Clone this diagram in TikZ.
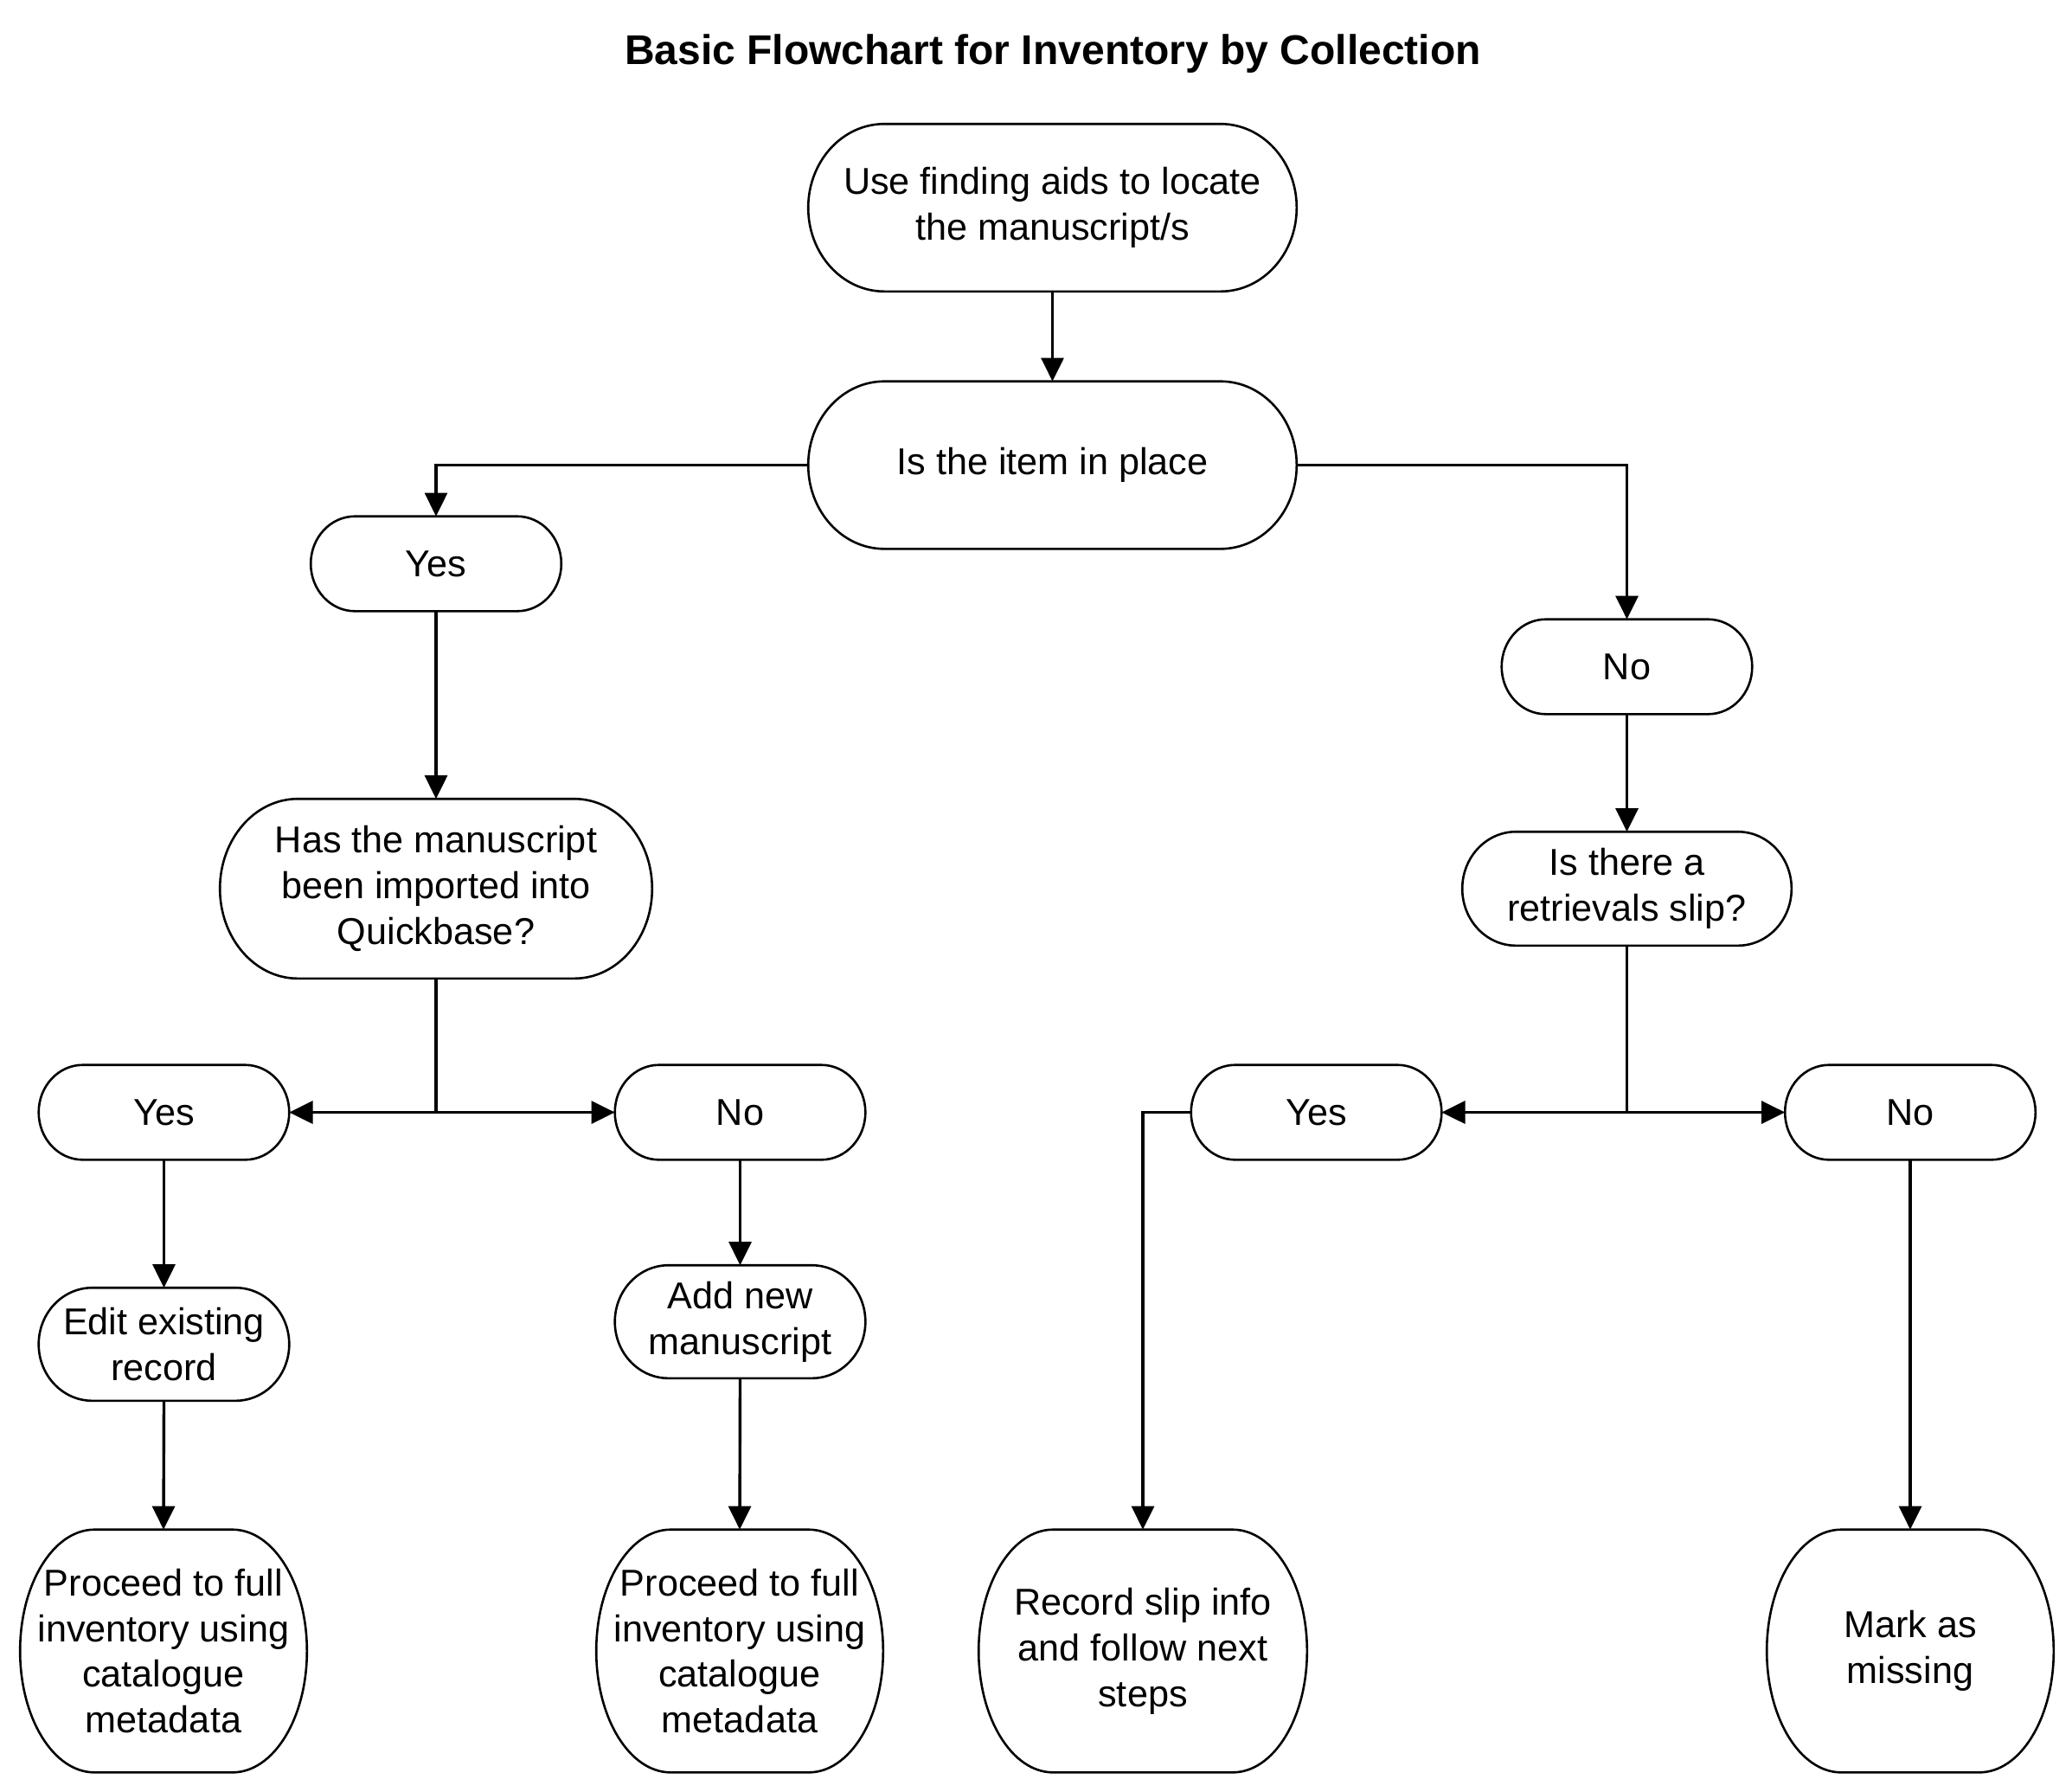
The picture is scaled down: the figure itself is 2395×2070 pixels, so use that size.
\documentclass[tikz,border=0pt]{standalone}
\usepackage{fontspec}
\setmainfont{Liberation Sans}
\usetikzlibrary{arrows.meta,calc}
\tikzset{
  box/.style={rectangle, inner sep=0pt, align=center, font=\fontsize{10.8}{13.2}\selectfont},
  shp/.style={line width=0.65pt, black},
  ln/.style={line width=0.85pt},
  arr/.style={line width=0.85pt, -{Triangle[length=6.8pt,width=6.5pt]}},
  ttl/.style={font=\bfseries\fontsize{12}{14}\selectfont},
}
\begin{document}
\begin{tikzpicture}[x=0.25pt,y=-0.25pt]
\useasboundingbox (0,0) rectangle (2395,2070);
\node[ttl] (title) at (1217,62) {Basic Flowchart for Inventory by Collection};
\node[box, minimum width=140.75pt, minimum height=48pt] (A) at (1216.5,240) {Use finding aids to locate\\the manuscript/s};
\node[box, minimum width=140.75pt, minimum height=48pt] (B) at (1216.5,537.5) {Is the item in place};
\node[box, minimum width=72pt, minimum height=27pt] (yes1) at (504,651.5) {Yes};
\node[box, minimum width=72pt, minimum height=27pt] (no1) at (1880.5,770.5) {No};
\node[box, minimum width=124.5pt, minimum height=51.5pt] (q1) at (504,1027) {Has the manuscript\\been imported into\\Quickbase?};
\node[box, minimum width=94.75pt, minimum height=32.5pt] (q2) at (1880.5,1027) {Is there a\\retrievals slip?};
\node[box, minimum width=72pt, minimum height=27pt] (yes2) at (189.5,1285.5) {Yes};
\node[box, minimum width=72pt, minimum height=27pt] (no2) at (855.5,1285.5) {No};
\node[box, minimum width=72pt, minimum height=27pt] (yes3) at (1521.5,1285.5) {Yes};
\node[box, minimum width=72pt, minimum height=27pt] (no3) at (2208,1285.5) {No};
\node[box, minimum width=72pt, minimum height=32.25pt] (edit) at (189.5,1553.5) {Edit existing\\record};
\node[box, minimum width=72pt, minimum height=32.25pt] (add) at (855.5,1527.5) {Add new\\manuscript};
\node[box, minimum width=82.5pt, minimum height=69.75pt] (p1) at (189,1908) {Proceed to full\\inventory using\\catalogue\\metadata};
\node[box, minimum width=82.5pt, minimum height=69.75pt] (p2) at (855,1908) {Proceed to full\\inventory using\\catalogue\\metadata};
\node[box, minimum width=94.5pt, minimum height=69.75pt] (rec) at (1321,1908) {Record slip info\\and follow next\\steps};
\node[box, minimum width=82.5pt, minimum height=69.75pt] (mark) at (2208,1908) {Mark as\\missing};
% shapes
\foreach \nm/\rr in {A/22pt,B/22pt,yes1/12.75pt,no1/12.75pt,q1/22.5pt,q2/15.5pt,yes2/12.75pt,no2/12.75pt,yes3/12.75pt,no3/12.75pt,edit/15.5pt,add/15.5pt,p1/21.5pt,p2/21.5pt,rec/21.5pt,mark/21.5pt}{
  \draw[shp] let \p1=(\nm.north west), \p2=(\nm.south east), \n1={0.5*(\y1-\y2)} in
    (\x1+\rr,\y1) -- (\x2-\rr,\y1)
    arc[start angle=90, end angle=-90, x radius=\rr, y radius=\n1]
    -- (\x1+\rr,\y2)
    arc[start angle=270, end angle=90, x radius=\rr, y radius=\n1] -- cycle;
}
% connectors
\coordinate (j1) at (504,1285.5);
\coordinate (j2) at (1880.5,1285.5);
\draw[arr] (A.south) -- (B.north);
\draw[arr] (B.west) -| (yes1.north);
\draw[arr] (B.east) -| (no1.north);
\draw[arr] (yes1.south) -- (q1.north);
\draw[arr] (no1.south) -- (q2.north);
\draw[ln] (q1.south) -- (j1);
\draw[arr] (j1) -- (yes2.east);
\draw[arr] (j1) -- (no2.west);
\draw[ln] (q2.south) -- (j2);
\draw[arr] (j2) -- (yes3.east);
\draw[arr] (j2) -- (no3.west);
\draw[arr] (yes2.south) -- (edit.north);
\draw[arr] (no2.south) -- (add.north);
\draw[arr] (edit.south) -- (p1.north);
\draw[arr] (add.south) -- (p2.north);
\draw[arr] (yes3.west) -| (rec.north);
\draw[arr] (no3.south) -- (mark.north);
\end{tikzpicture}
\end{document}
